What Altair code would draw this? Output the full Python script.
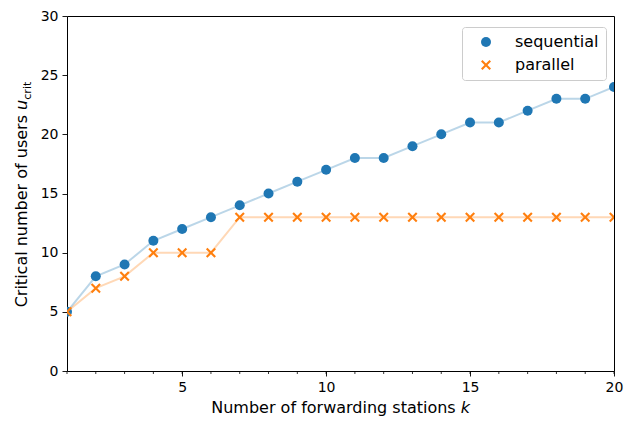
import altair as alt
import pandas as pd

# ---- data ----
k = list(range(1, 21))
sequential = [5, 8, 9, 11, 12, 13, 14, 15, 16, 17, 18, 18, 19, 20, 21, 21, 22, 23, 23, 24]
parallel = [5, 7, 8, 10, 10, 10, 13, 13, 13, 13, 13, 13, 13, 13, 13, 13, 13, 13, 13, 13]
series_names = ["sequential", "parallel"]
colors = ["#1f77b4", "#ff7f0e"]
x_ticks = [5, 10, 15, 20]
y_ticks = [0, 5, 10, 15, 20, 25, 30]

df = pd.DataFrame({
    "k": k + k,
    "u": sequential + parallel,
    "series": [series_names[0]] * len(k) + [series_names[1]] * len(k),
})
minor = pd.DataFrame({"k": k})

W, H = 547, 355
FONT = "DejaVu Sans"
XPATH = ("M-1,-0.7L-0.7,-1L0,-0.3L0.7,-1L1,-0.7L0.3,0L1,0.7L0.7,1"
         "L0,0.3L-0.7,1L-1,0.7L-0.3,0Z")

axis_common = dict(title=None, grid=False, domain=False, tickColor="black",
                   tickSize=5, tickWidth=0.9, labelFontSize=14, labelFont=FONT,
                   labelColor="black", labelPadding=4, labelFlush=False)

x_enc = alt.X("k:Q", scale=alt.Scale(domain=[1, 20], nice=False, zero=False),
              axis=alt.Axis(values=x_ticks, **axis_common))
y_enc = alt.Y("u:Q", scale=alt.Scale(domain=[0, 30], nice=False),
              axis=alt.Axis(values=y_ticks, **axis_common))

base = alt.Chart(df)

lines = [
    base.transform_filter(alt.datum.series == s)
    .mark_line(color=c, opacity=0.3, strokeWidth=2, clip=True)
    .encode(x=x_enc, y=y_enc)
    for s, c in zip(series_names, colors)
]

points = base.mark_point(filled=True, opacity=1, size=100, clip=True).encode(
    x=x_enc,
    y=y_enc,
    color=alt.Color("series:N", scale=alt.Scale(domain=series_names, range=colors),
                    legend=alt.Legend(title=None)),
    shape=alt.Shape("series:N", scale=alt.Scale(domain=series_names, range=["circle", XPATH]),
                    legend=alt.Legend(title=None)),
)

minor_ticks = alt.Chart(minor).mark_rule(color="black", strokeWidth=0.8).encode(
    x=x_enc, y=alt.value(H), y2=alt.value(H + 3)
)

def txt(s, x, y, size=16, style="normal", align="left", angle=0):
    return alt.Chart(pd.DataFrame({"t": [s]})).mark_text(
        font=FONT, fontSize=size, fontStyle=style, align=align,
        baseline="alphabetic", angle=angle, color="black"
    ).encode(text="t:N", x=alt.value(x), y=alt.value(y))

xt0 = 388.7
ybase = 396.5
yt0 = 99
titles = [
    txt("Number of forwarding stations", xt0, ybase, align="right"),
    txt("k", xt0 + 5.1, ybase, style="italic"),
    txt("Critical number of users", -40.3, yt0, align="right", angle=270),
    txt("u", -40.3, yt0 - 5.1, style="italic", angle=270),
    txt("crit", -36.5, yt0 - 5.1 - 10.1, size=11.2, angle=270),
]

chart = alt.layer(*lines, points, minor_ticks, *titles).properties(
    width=W, height=H,
    autosize=alt.AutoSizeParams(type="none"),
    padding={"left": 59, "top": 8, "right": 14, "bottom": 45},
).configure_view(stroke="black", strokeWidth=1).configure_legend(
    orient="none", legendX=395, legendY=11,
    labelFont=FONT, labelFontSize=16, labelColor="black",
    symbolSize=100, symbolStrokeWidth=0, symbolOffset=9, labelOffset=21,
    padding=7, rowPadding=7, strokeColor="#cccccc", fillColor="white",
    cornerRadius=3,
)

chart.save("out.html", embed_options={"renderer": "svg", "actions": False})
